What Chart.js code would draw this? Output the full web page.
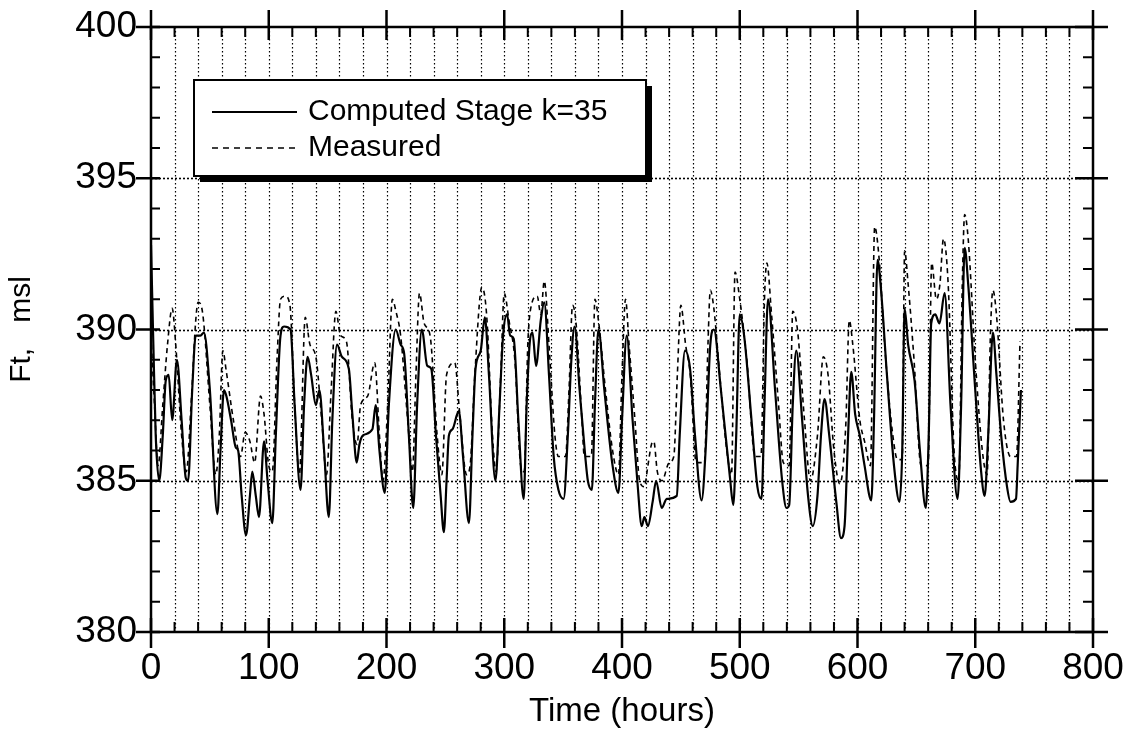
<!DOCTYPE html>
<html>
<head>
<meta charset="utf-8">
<title>Computed vs measured stage</title>
<script src="https://cdn.jsdelivr.net/npm/chart.js@4.4.1/dist/chart.umd.min.js"></script>
<style>
  body { margin: 0; background: #fff; }
  #wrap { width: 1129px; height: 736px; }
</style>
</head>
<body>
<div id="wrap"><canvas id="stageChart" width="1129" height="736"></canvas></div>
<script>
// Computed stage k=35 (hours, ft msl)
const computedHours = [0, 2, 4, 7, 10, 12.5, 15, 18, 22, 26, 29.5, 31.5, 35, 38, 42, 45, 50, 56.4, 59, 62, 64, 68, 72, 74, 77, 80.7, 84, 86, 89, 91.7, 96, 99, 103, 106, 110, 113, 118.5, 122, 127, 130, 133, 136, 140, 143, 147, 151, 154, 158, 162, 168, 171, 174.7, 177, 180, 188, 190.8, 194, 198.5, 202, 207.8, 212, 215, 219, 222.7, 226, 230, 234.6, 238, 242, 246, 248.7, 251, 253, 256, 261.4, 265, 270, 273, 275.6, 280, 283.5, 287, 292.5, 296, 299, 302.4, 305, 308, 312, 316.5, 319, 322, 324, 327, 331, 334, 338, 342, 346, 350.4, 354, 357, 359.7, 364, 368.8, 371, 374.4, 377, 380, 385, 392, 397, 400, 404, 409, 413, 416.8, 419, 422, 426, 429, 433.7, 438, 446.5, 449, 453.5, 457.8, 462, 467.6, 471, 475, 478, 484, 491.7, 494.5, 497, 500, 504, 510, 515, 518.5, 521, 524, 530, 536, 539.7, 542, 545, 548, 553, 558, 562, 566, 569, 572, 576, 582, 586, 589, 592, 594.7, 598, 601.9, 606, 611.7, 614, 617, 620, 625, 631, 635.7, 638, 640, 643, 648.5, 653, 658, 660.5, 662.6, 666, 669.6, 674, 679, 685, 688, 691, 694, 700, 705, 708, 711, 715, 718, 722, 727, 730, 734.6, 736, 738.8];
const computedStage = [392.8, 389.5, 386.5, 385.0, 386.5, 388.3, 388.5, 387.0, 389.0, 387.0, 385.1, 385.0, 388.0, 389.8, 389.8, 389.9, 388.0, 383.9, 386.0, 388.0, 387.8, 387.0, 386.1, 386.0, 384.5, 383.2, 384.5, 385.3, 384.5, 383.8, 386.3, 385.0, 383.6, 386.5, 389.8, 390.1, 390.0, 387.5, 384.7, 387.5, 389.1, 388.5, 387.5, 388.0, 386.0, 383.8, 387.0, 389.5, 389.1, 388.7, 387.2, 385.6, 386.2, 386.5, 386.7, 387.5, 386.0, 384.6, 387.5, 390.0, 389.5, 389.2, 386.5, 384.1, 387.5, 390.0, 388.8, 388.7, 386.5, 384.5, 383.3, 385.0, 386.5, 386.7, 387.3, 385.8, 383.6, 386.5, 388.7, 389.3, 390.4, 388.5, 385.0, 387.5, 389.8, 390.5, 389.8, 389.7, 387.0, 384.4, 387.5, 389.7, 389.9, 388.8, 390.3, 390.9, 388.5, 385.8, 384.7, 384.4, 386.5, 389.0, 390.1, 388.0, 385.8, 385.0, 384.7, 387.5, 390.0, 388.0, 385.5, 384.6, 387.0, 389.8, 387.0, 385.0, 383.5, 383.8, 383.5, 384.3, 385.0, 384.1, 384.4, 384.5, 386.5, 389.3, 388.7, 386.5, 384.35, 386.0, 389.5, 390.0, 388.0, 385.1, 384.2, 386.5, 390.5, 389.7, 387.0, 384.8, 384.4, 387.5, 391.0, 388.0, 385.0, 384.1, 384.2, 387.5, 389.3, 387.0, 384.5, 383.5, 384.5, 386.5, 387.7, 386.5, 384.3, 383.1, 383.5, 386.5, 388.6, 387.2, 386.5, 385.5, 384.35, 387.0, 392.3, 391.3, 388.5, 385.5, 384.3, 386.0, 390.7, 389.5, 388.3, 386.0, 384.1, 386.5, 390.2, 390.5, 390.2, 391.2, 387.5, 384.4, 387.5, 392.7, 391.5, 388.0, 385.3, 384.5, 386.5, 389.9, 388.5, 386.5, 384.8, 384.3, 384.4, 385.5, 388.0];

// Measured stage (hours, ft msl)
const measuredHours = [0, 3, 6, 10, 14, 18, 21, 26, 30, 34, 38, 40, 44, 50, 55, 58, 61, 64, 70, 76, 80, 84, 88, 93, 96, 100, 103, 107, 110, 114, 118, 122, 126, 131, 135, 140, 145, 149, 153, 157, 161, 166, 171, 175, 178, 184, 190, 194, 197, 201, 205, 208, 212, 218, 222, 225, 228, 232, 237, 243, 247, 251, 258, 262, 268, 271, 275, 281, 285, 290, 293, 297, 300, 304, 309, 314, 317, 320, 323, 328, 331, 334, 338, 343, 346, 352, 355, 358, 361, 366, 368, 374, 377, 380, 386, 392, 397, 400, 403, 406, 411, 415, 419, 422, 425, 427, 430, 434, 440, 444, 447, 450, 454, 458, 463, 470, 473, 475, 478, 483, 489, 493, 496, 500, 506, 513, 518, 521, 523, 527, 533, 537, 542, 545, 549, 555, 560, 566, 571, 575, 580, 585, 590, 593, 596, 602, 606, 611, 614.6, 618, 624, 630, 634, 638, 640, 643, 648, 654, 660, 663, 667, 670, 673, 677, 682, 686, 689, 691, 694, 700, 706, 710, 713, 715, 718, 724, 730, 735, 738];
const measuredStage = [389.8, 387.5, 385.5, 387.5, 389.5, 390.7, 389.5, 386.5, 385.3, 387.5, 390.3, 390.9, 390.5, 387.5, 385.2, 386.5, 389.3, 388.6, 387.0, 385.8, 386.6, 386.3, 385.6, 387.8, 387.2, 385.5, 385.3, 389.0, 391.0, 391.1, 390.8, 387.5, 385.2, 390.4, 389.5, 389.1, 387.0, 385.2, 388.0, 390.6, 389.8, 389.6, 387.0, 386.2, 387.5, 387.8, 388.9, 386.5, 385.0, 387.5, 391.0, 390.6, 389.8, 387.0, 385.3, 388.5, 391.2, 390.2, 389.8, 386.5, 385.2, 388.5, 388.9, 387.3, 385.2, 385.5, 388.5, 391.4, 390.5, 386.5, 385.3, 388.5, 391.2, 390.3, 389.0, 385.5, 385.3, 389.5, 390.8, 391.1, 390.5, 391.6, 389.5, 386.5, 385.8, 385.8, 388.0, 390.8, 390.2, 387.0, 385.8, 385.8, 391.0, 390.3, 388.0, 386.0, 385.2, 388.5, 391.0, 389.5, 387.0, 385.0, 384.8, 385.5, 386.2, 386.3, 385.3, 385.0, 385.6, 385.8, 388.5, 390.8, 389.5, 388.5, 385.6, 385.6, 389.5, 391.3, 390.7, 388.5, 386.0, 385.2, 391.9, 391.0, 389.0, 385.8, 385.8, 391.0, 392.2, 390.5, 387.5, 385.6, 385.5, 390.6, 390.0, 387.0, 385.0, 386.5, 389.1, 388.5, 386.0, 384.9, 386.8, 390.3, 389.5, 387.0, 386.3, 385.5, 393.4, 392.5, 389.0, 386.5, 385.7, 385.7, 392.6, 391.5, 389.0, 385.5, 385.5, 392.2, 391.0, 391.5, 393.0, 391.5, 386.0, 385.0, 391.5, 393.8, 393.0, 389.0, 386.0, 385.2, 390.0, 391.3, 390.5, 387.0, 385.8, 385.8, 389.6];

const xTickValues = [0, 100, 200, 300, 400, 500, 600, 700, 800];
const yTickValues = [380, 385, 390, 395, 400];
const legendLabels = ['Computed Stage k=35', 'Measured'];

function toPoints(xs, ys) {
  return xs.map((x, i) => ({ x: x, y: ys[i] }));
}

// draws the frame, tick marks, dotted grid and the boxed legend
const framePlugin = {
  id: 'frame',
  beforeDatasetsDraw(chart) {
    const { ctx, chartArea: a, scales: { x, y } } = chart;
    ctx.save();
    ctx.strokeStyle = '#000';

    // vertical dotted lines every 20 hours
    ctx.lineWidth = 1.2;
    ctx.setLineDash([1.5, 2.5]);
    for (let h = 20; h < 800; h += 20) {
      const px = Math.round(x.getPixelForValue(h)) + 0.5;
      ctx.beginPath();
      ctx.moveTo(px, a.top);
      ctx.lineTo(px, a.bottom);
      ctx.stroke();
    }
    // horizontal dotted lines
    ctx.lineWidth = 1.6;
    ctx.setLineDash([2, 2]);
    yTickValues.slice(1, -1).forEach(v => {
      const py = Math.round(y.getPixelForValue(v)) + 0.5;
      ctx.beginPath();
      ctx.moveTo(a.left, py);
      ctx.lineTo(a.right, py);
      ctx.stroke();
    });
    ctx.setLineDash([]);
    ctx.restore();
  },
  afterDatasetsDraw(chart) {
    const { ctx, chartArea: a, scales: { x, y } } = chart;
    ctx.save();
    ctx.strokeStyle = '#000';
    ctx.fillStyle = '#000';

    // frame
    ctx.lineWidth = 2.5;
    ctx.strokeRect(a.left, a.top, a.right - a.left, a.bottom - a.top);

    // minor ticks
    ctx.lineWidth = 2;
    for (let h = 20; h < 800; h += 20) {
      if (h % 100 === 0) continue;
      const px = x.getPixelForValue(h);
      ctx.beginPath();
      ctx.moveTo(px, a.bottom); ctx.lineTo(px, a.bottom - 10);
      ctx.moveTo(px, a.top); ctx.lineTo(px, a.top + 10);
      ctx.stroke();
    }
    for (let v = 381; v < 400; v++) {
      if (v % 5 === 0) continue;
      const py = y.getPixelForValue(v);
      ctx.beginPath();
      ctx.moveTo(a.left, py); ctx.lineTo(a.left + 9, py);
      ctx.moveTo(a.right, py); ctx.lineTo(a.right - 10, py);
      ctx.stroke();
    }
    // major ticks
    ctx.lineWidth = 2.5;
    xTickValues.forEach(h => {
      const px = x.getPixelForValue(h);
      ctx.beginPath();
      ctx.moveTo(px, a.bottom - 14); ctx.lineTo(px, a.bottom + 16);
      ctx.moveTo(px, a.top - 17); ctx.lineTo(px, a.top + 13);
      ctx.stroke();
    });
    yTickValues.forEach(v => {
      const py = y.getPixelForValue(v);
      ctx.beginPath();
      ctx.moveTo(a.left - 15, py); ctx.lineTo(a.left + 9, py);
      ctx.moveTo(a.right - 18, py); ctx.lineTo(a.right + 15, py);
      ctx.stroke();
    });

    // legend box with drop shadow
    const bx = 194, by = 80, bw = 452, bh = 96;
    ctx.fillRect(bx + 6, by + 6, bw, bh);
    ctx.fillStyle = '#fff';
    ctx.fillRect(bx, by, bw, bh);
    ctx.lineWidth = 2;
    ctx.strokeRect(bx, by, bw, bh);

    ctx.fillStyle = '#000';
    ctx.font = '30px "Liberation Sans", Arial, sans-serif';
    ctx.textBaseline = 'middle';
    ctx.lineWidth = 2;
    ctx.beginPath();
    ctx.moveTo(212, 112); ctx.lineTo(297, 112);
    ctx.stroke();
    ctx.fillText(legendLabels[0], 308, 112);
    ctx.lineWidth = 1.5;
    ctx.setLineDash([6, 5]);
    ctx.beginPath();
    ctx.moveTo(212, 148); ctx.lineTo(297, 148);
    ctx.stroke();
    ctx.setLineDash([]);
    ctx.fillText(legendLabels[1], 308, 148);
    ctx.restore();
  }
};

const tickFont = { family: '"Liberation Sans", Arial, sans-serif', size: 37 };

new Chart(document.getElementById('stageChart').getContext('2d'), {
  type: 'line',
  data: {
    datasets: [
      {
        label: legendLabels[0],
        data: toPoints(computedHours, computedStage),
        borderColor: '#000',
        borderWidth: 2.2,
        pointRadius: 0,
        fill: false,
        cubicInterpolationMode: 'monotone'
      },
      {
        label: legendLabels[1],
        data: toPoints(measuredHours, measuredStage),
        borderColor: '#000',
        borderWidth: 1.6,
        borderDash: [5, 4],
        pointRadius: 0,
        fill: false,
        cubicInterpolationMode: 'monotone'
      }
    ]
  },
  options: {
    responsive: false,
    animation: false,
    devicePixelRatio: 1,
    layout: { padding: { top: 27, right: 36, left: 0, bottom: 0 } },
    plugins: {
      legend: { display: false },
      tooltip: { enabled: false }
    },
    scales: {
      x: {
        type: 'linear',
        min: 0,
        max: 800,
        grid: { display: false, drawTicks: false },
        border: { display: false },
        ticks: {
          stepSize: 100,
          color: '#000',
          font: tickFont,
          padding: 15,
          maxRotation: 0
        },
        title: {
          display: true,
          text: 'Time (hours)',
          color: '#000',
          font: { family: '"Liberation Sans", Arial, sans-serif', size: 33 },
          padding: { top: 4, bottom: 4 }
        },
        afterFit: scale => {
          scale.height = 104;
          scale.paddingLeft = 0;
          scale.paddingRight = 0;
        }
      },
      y: {
        min: 380,
        max: 400,
        grid: { display: false, drawTicks: false },
        border: { display: false },
        ticks: {
          stepSize: 5,
          color: '#000',
          font: tickFont,
          padding: 14
        },
        title: {
          display: true,
          text: 'Ft,   msl',
          color: '#000',
          font: { family: '"Liberation Sans", Arial, sans-serif', size: 30 },
          padding: { top: 4, bottom: 4 }
        },
        afterFit: scale => {
          scale.width = 151;
          scale.paddingTop = 0;
          scale.paddingBottom = 0;
        }
      }
    }
  },
  plugins: [framePlugin]
});
</script>
</body>
</html>
